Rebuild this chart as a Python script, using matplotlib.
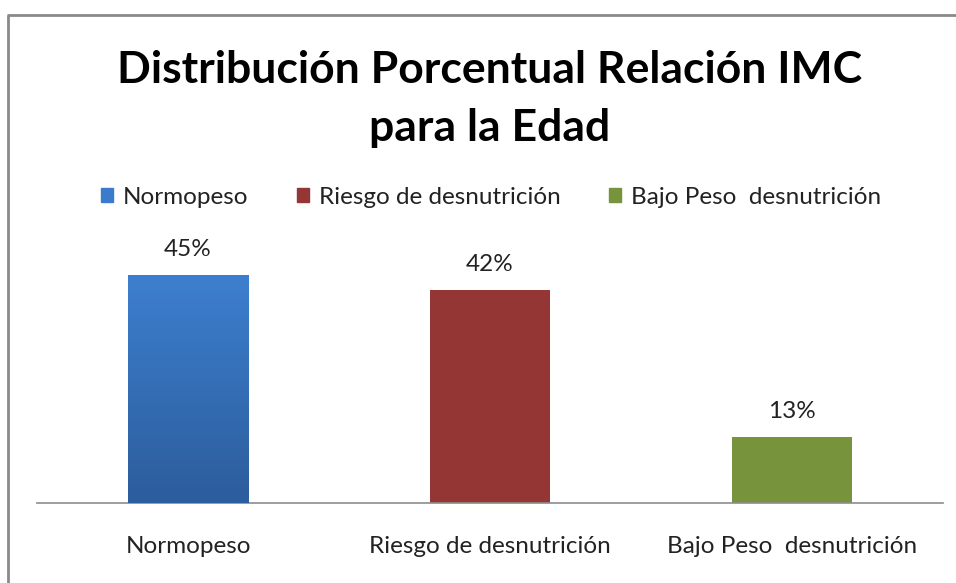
import numpy as np
import matplotlib
matplotlib.use("Agg")
from matplotlib import pyplot as plt
from matplotlib.patches import Rectangle
from matplotlib.colors import LinearSegmentedColormap

# DATOS
categorias = ['Normopeso', 'Riesgo de desnutrición', 'Bajo Peso  desnutrición']
porcentajes = [45, 42, 13]
etiquetas = ['45%', '42%', '13%']
colores = ['#3a7bcb', '#943634', '#77933c']

titulo = 'Distribución Porcentual Relación IMC\npara la Edad'

plt.rcParams['font.family'] = ['Lato', 'DejaVu Sans']

W, H = 956, 583
fig = plt.figure(figsize=(W / 100, H / 100), dpi=100)

# marco gris: borde izquierdo y superior (dos segmentos separados)
top = 1 - 15 / H
fig.add_artist(plt.Line2D([7 / W, 1.0], [top, top], transform=fig.transFigure,
                          color='#8a8a8a', linewidth=2, solid_capstyle='butt'))
fig.add_artist(plt.Line2D([8 / W, 8 / W], [0.0, top], transform=fig.transFigure,
                          color='#8a8a8a', linewidth=2, solid_capstyle='butt'))

ax = fig.add_axes([37 / W, 80 / H, 906 / W, 253.5 / H])
x = np.arange(len(categorias))
barras = ax.bar(x, porcentajes, width=0.4, color=colores, zorder=2)

# degradado en la barra azul
degradado = LinearSegmentedColormap.from_list('azul', ['#2c5d9c', '#3d7fcf'])
b = barras[0]
img = ax.imshow(np.linspace(0, 1, 256).reshape(-1, 1), cmap=degradado, aspect='auto', origin='lower',
                extent=[b.get_x(), b.get_x() + b.get_width(), 0, b.get_height()], zorder=3)
img.set_clip_path(b)

for xi, v, t in zip(x, porcentajes, etiquetas):
    ax.annotate(t, (xi, v), xytext=(0, 11), textcoords='offset points', ha='center', va='bottom',
                fontsize=17.5, color='#222222')

ax.set_xlim(-0.5, 2.5)
ax.set_ylim(0, 50)
ax.set_xticks(x)
ax.set_xticklabels(categorias, fontsize=17.5, color='#222222')
ax.tick_params(axis='x', length=0, pad=24)
ax.set_yticks([])
for s in ['top', 'right', 'left']:
    ax.spines[s].set_visible(False)
ax.spines['bottom'].set_color('#8c8c8c')
ax.spines['bottom'].set_linewidth(1.2)

fig.text(490 / W, 1 - 99 / H, titulo, ha='center', va='center', fontsize=32, fontweight='bold',
         linespacing=1.52, color='black')

handles = [Rectangle((0, 0), 1, 1, color=c) for c in colores]
fig.legend(handles, categorias, loc='center', bbox_to_anchor=(491 / W, 1 - 197 / H), ncol=3,
           frameon=False, fontsize=17.5, handlelength=0.5, handleheight=0.5, handletextpad=0.4,
           columnspacing=2.0, labelcolor='#222222')

fig.savefig('out.png', dpi=100)
